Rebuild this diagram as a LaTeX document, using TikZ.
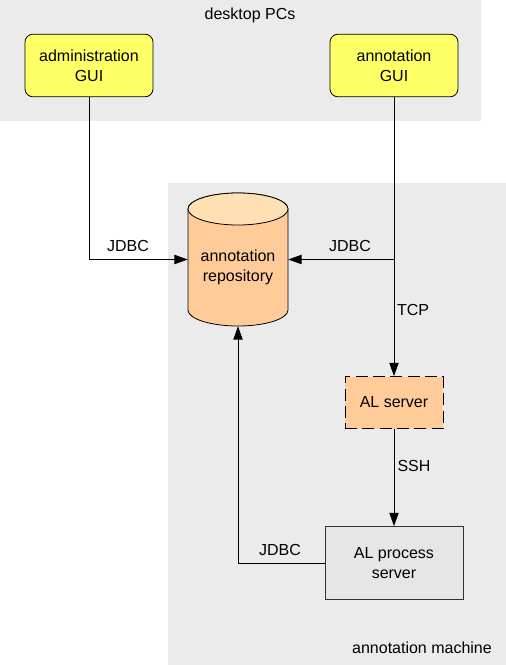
\documentclass[tikz,border=0pt]{standalone}
\usepackage{fontspec}
\setmainfont{Liberation Sans}
\usetikzlibrary{arrows.meta}
\definecolor{bggray}{HTML}{EBEBEB}
\definecolor{guiyellow}{HTML}{FFFF66}
\definecolor{orangefill}{HTML}{FFCC99}
\definecolor{orangetop}{HTML}{FFE0B4}
\definecolor{procgray}{HTML}{E6E6E6}
\tikzset{
  every node/.style={font=\fontsize{12}{15}\selectfont, align=center, inner sep=0pt},
  guibox/.style={draw=black, fill=guiyellow, rounded corners=6pt, minimum width=96pt, minimum height=47pt, line width=0.6pt},
  serverbox/.style={draw=black, fill=orangefill, dash pattern=on 9pt off 4pt, minimum width=73.5pt, minimum height=39pt, line width=0.6pt},
  procbox/.style={draw=black!80, fill=procgray, minimum width=103.5pt, minimum height=54.75pt, line width=0.6pt},
  conn/.style={line width=0.6pt, draw=black},
  arr/.style={conn, -{Triangle[length=10pt,width=7pt]}},
  lbl/.style={}
}
\begin{document}
\begin{tikzpicture}[x=0.75pt,y=0.75pt]
\useasboundingbox (0,0) rectangle (506,-665);
% regions
\fill[bggray] (0,0) rectangle (481,-121);
\fill[bggray] (168,-183) rectangle (506,-665);
\node (desk) at (250,-15) {desktop PCs};
\node (mach) at (422,-648) {annotation machine};
% boxes
\node[guibox] (admin) at (89,-65.5) {administration\\GUI};
\node[guibox] (agui) at (394,-65.5) {annotation\\GUI};
\node[serverbox] (als) at (394,-402.5) {AL server};
\node[procbox] (proc) at (394,-563) {AL process\\server};
% cylinder
\fill[orangefill, draw=black, line width=0.6pt] (188,-209) -- (188,-310) arc[start angle=180, end angle=360, x radius=50, y radius=16] -- (288,-209) arc[start angle=0, end angle=180, x radius=50, y radius=16] -- cycle;
\filldraw[fill=orangetop, draw=black, line width=0.6pt] (238,-209) ellipse[x radius=50, y radius=16];
\node[minimum width=75pt, minimum height=99.75pt] (repo) at (238,-259.5) {};
\node (repotext) at (238,-267) {annotation\\repository};
% connectors
\coordinate (j1) at (394,-259.5);
\draw[arr] (admin.south) |- (repo.west);
\draw[conn] (agui.south) -- (j1);
\draw[arr] (j1) -- (repo.east);
\draw[arr] (j1) -- (als.north);
\draw[arr] (als.south) -- (proc.north);
\draw[arr] (proc.west) -| (repo.south);
% labels
\node[lbl] (l1) at (128,-246) {JDBC};
\node[lbl] (l2) at (350,-246) {JDBC};
\node[lbl] (l3) at (413,-310) {TCP};
\node[lbl] (l4) at (414,-466) {SSH};
\node[lbl] (l5) at (280,-550) {JDBC};
\end{tikzpicture}
\end{document}
